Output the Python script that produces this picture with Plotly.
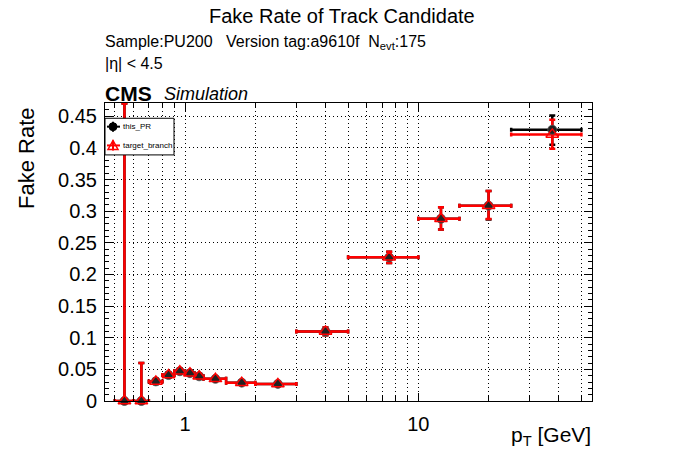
import numpy as np
import plotly.graph_objects as go

# ---------------- data ----------------
bin_edges = [0.5, 0.6, 0.7, 0.8, 0.9, 1.0, 1.1, 1.2, 1.5, 2, 3, 5, 10, 15, 25, 50]

pr_rate = [0.0, 0.0, 0.031, 0.041, 0.047, 0.044, 0.039, 0.035, 0.029, 0.027,
           0.110, 0.227, 0.288, 0.3087, 0.4287]
pr_err_up = [0.470, 0.060, 0.004, 0.004, 0.004, 0.004, 0.004, 0.003, 0.003, 0.003,
             0.006, 0.009, 0.018, 0.023, 0.0226]
pr_err_dn = [0.0, 0.0, 0.004, 0.004, 0.004, 0.004, 0.004, 0.003, 0.003, 0.003,
             0.006, 0.009, 0.017, 0.022, 0.0237]

tb_rate = [0.0, 0.0, 0.031, 0.041, 0.047, 0.044, 0.039, 0.035, 0.029, 0.027,
           0.110, 0.227, 0.288, 0.3087, 0.4213]
tb_err_up = [0.470, 0.060, 0.004, 0.004, 0.004, 0.004, 0.004, 0.003, 0.003, 0.003,
             0.006, 0.009, 0.018, 0.023, 0.023]
tb_err_dn = [0.0, 0.0, 0.004, 0.004, 0.004, 0.004, 0.004, 0.003, 0.003, 0.003,
             0.006, 0.009, 0.017, 0.021, 0.0226]

y_tickvals = [0, 0.05, 0.1, 0.15, 0.2, 0.25, 0.3, 0.35, 0.4, 0.45]
y_ticktext = ["0", "0.05", "0.1", "0.15", "0.2", "0.25", "0.3", "0.35", "0.4", "0.45"]
x_tickvals = [1, 10]
x_ticktext = ["1", "10"]
x_minorvals = [0.5, 0.6, 0.7, 0.8, 0.9, 2, 3, 4, 5, 6, 7, 8, 9, 20, 30, 40, 50]

# ---------------- derived ----------------
lo = np.array(bin_edges[:-1], dtype=float)
hi = np.array(bin_edges[1:], dtype=float)
centers = (lo + hi) / 2.0
xe_plus = hi - centers
xe_minus = centers - lo

FONT = "Liberation Sans, Arial, Helvetica, sans-serif"
RED = "#ff0000"

fig = go.Figure()

# error bars first (black then red), then markers on top
fig.add_trace(go.Scatter(
    x=centers, y=pr_rate, mode="markers", name="this_PR errors",
    marker=dict(size=1, color="rgba(0,0,0,0)"),
    error_x=dict(type="data", symmetric=False, array=xe_plus, arrayminus=xe_minus,
                 color="black", thickness=2.5, width=2),
    error_y=dict(type="data", symmetric=False, array=pr_err_up, arrayminus=pr_err_dn,
                 color="black", thickness=2.5, width=3),
    cliponaxis=False, showlegend=False, hoverinfo="skip",
))
fig.add_trace(go.Scatter(
    x=centers, y=tb_rate, mode="markers", name="target_branch errors",
    marker=dict(size=1, color="rgba(0,0,0,0)"),
    error_x=dict(type="data", symmetric=False, array=xe_plus, arrayminus=xe_minus,
                 color=RED, thickness=2.5, width=2),
    error_y=dict(type="data", symmetric=False, array=tb_err_up, arrayminus=tb_err_dn,
                 color=RED, thickness=2.5, width=3),
    cliponaxis=False, showlegend=False, hoverinfo="skip",
))
fig.add_trace(go.Scatter(
    x=centers, y=pr_rate, mode="markers", name="this_PR",
    marker=dict(symbol="circle", size=9, color="#222222", line=dict(color="#555555", width=0.8)),
    cliponaxis=False, showlegend=False,
))
fig.add_trace(go.Scatter(
    x=centers, y=tb_rate, mode="markers", name="target_branch",
    marker=dict(symbol="triangle-up-open", size=11, color=RED, line=dict(color=RED, width=1.5)),
    cliponaxis=False, showlegend=False,
))

# plot-area geometry in pixels (for placing text)
L, R, T, B = 105, 592, 103, 401.5
W, H = R - L, B - T


def px(x):
    return (x - L) / W


def py(y):
    return (B - y) / H


GRIDDASH = "1px,3px"

fig.update_layout(
    width=696, height=472, autosize=False,
    margin=dict(l=L, r=696 - R, t=T, b=472 - B, pad=0),
    paper_bgcolor="white", plot_bgcolor="white",
    font=dict(family=FONT, color="black"),
    showlegend=False,
    xaxis=dict(
        type="log", range=[np.log10(0.454), np.log10(55.5)],
        showline=True, linecolor="black", linewidth=1, mirror="ticks",
        ticks="inside", ticklen=8, tickwidth=1, tickcolor="black",
        tickvals=x_tickvals, ticktext=x_ticktext, tickfont=dict(size=20),
        ticklabelstandoff=5,
        showgrid=True, gridcolor="black", gridwidth=1, griddash=GRIDDASH,
        minor=dict(tickvals=x_minorvals, ticks="inside", ticklen=5, tickcolor="black",
                   showgrid=True, gridcolor="black", gridwidth=1, griddash=GRIDDASH),
        zeroline=False,
    ),
    yaxis=dict(
        range=[0, 0.4709],
        showline=True, linecolor="black", linewidth=1, mirror="ticks",
        ticks="inside", ticklen=8, tickwidth=1, tickcolor="black",
        tickvals=y_tickvals, ticktext=y_ticktext, tickfont=dict(size=20),
        ticklabelstandoff=3,
        showgrid=True, gridcolor="black", gridwidth=1, griddash=GRIDDASH,
        minor=dict(dtick=0.01, ticks="inside", ticklen=4, tickcolor="black", showgrid=False),
        zeroline=False,
    ),
)

ann = []
ann.append(dict(text="Fake Rate of Track Candidate", x=px(342), y=py(16), xanchor="center",
                yanchor="middle", font=dict(size=20)))
ann.append(dict(text="Sample:PU200   Version tag:a9610f  N<sub>evt</sub>:175", x=px(103), y=py(42),
                xanchor="left", yanchor="middle", font=dict(size=16)))
ann.append(dict(text="|η| < 4.5", x=px(103), y=py(63), xanchor="left", yanchor="middle",
                font=dict(size=16)))
ann.append(dict(text="<b>CMS</b>", x=px(103), y=py(93), xanchor="left", yanchor="middle",
                font=dict(size=21)))
ann.append(dict(text="<i>Simulation</i>", x=px(162), y=py(94), xanchor="left", yanchor="middle",
                font=dict(size=18)))
ann.append(dict(text="Fake Rate", x=px(27), y=py(158), xanchor="center", yanchor="middle",
                textangle=-90, font=dict(size=22)))
ann.append(dict(text="p<sub>T</sub> [GeV]", x=px(593), y=py(437), xanchor="right", yanchor="middle",
                font=dict(size=21)))
# legend texts
ann.append(dict(text="this_PR", x=px(121), y=py(126.7), xanchor="left", yanchor="middle",
                font=dict(size=8)))
ann.append(dict(text="target_branch", x=px(121), y=py(145.5), xanchor="left", yanchor="middle",
                font=dict(size=8)))
for a in ann:
    a.update(xref="paper", yref="paper", showarrow=False)
fig.update_layout(annotations=ann)

# legend box and symbols
shapes = []
shapes.append(dict(type="rect", xref="paper", yref="paper", x0=px(105), x1=px(174),
                   y0=py(155), y1=py(118.3), fillcolor="white",
                   line=dict(color="black", width=1), layer="above"))
# this_PR symbol
ax, ay = px(113), py(126.7)
shapes.append(dict(type="line", xref="paper", yref="paper", xsizemode="pixel", ysizemode="pixel",
                   xanchor=ax, yanchor=ay, x0=-6, x1=7, y0=0, y1=0,
                   line=dict(color="black", width=2), layer="above"))
shapes.append(dict(type="line", xref="paper", yref="paper", xsizemode="pixel", ysizemode="pixel",
                   xanchor=ax, yanchor=ay, x0=0, x1=0, y0=-5, y1=5,
                   line=dict(color="black", width=2), layer="above"))
shapes.append(dict(type="circle", xref="paper", yref="paper", xsizemode="pixel", ysizemode="pixel",
                   xanchor=ax, yanchor=ay, x0=-4, x1=4, y0=-4, y1=4,
                   fillcolor="black", line=dict(color="black", width=1), layer="above"))
# target_branch symbol
bx, by = px(113), py(145.5)
shapes.append(dict(type="line", xref="paper", yref="paper", xsizemode="pixel", ysizemode="pixel",
                   xanchor=bx, yanchor=by, x0=-6, x1=7, y0=0, y1=0,
                   line=dict(color=RED, width=2), layer="above"))
shapes.append(dict(type="line", xref="paper", yref="paper", xsizemode="pixel", ysizemode="pixel",
                   xanchor=bx, yanchor=by, x0=0, x1=0, y0=-5, y1=5,
                   line=dict(color=RED, width=2), layer="above"))
shapes.append(dict(type="path", xref="paper", yref="paper", xsizemode="pixel", ysizemode="pixel",
                   xanchor=bx, yanchor=by, path="M -5,-4 L 5,-4 L 0,5 Z",
                   fillcolor="rgba(0,0,0,0)", line=dict(color=RED, width=1.5), layer="above"))
fig.update_layout(shapes=shapes)

fig.write_html("out.html")
